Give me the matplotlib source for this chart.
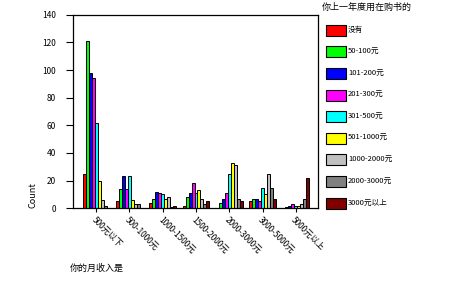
import matplotlib
matplotlib.use("Agg")
import matplotlib.pyplot as plt
from matplotlib.patches import Rectangle
import numpy as np

plt.rcParams['font.family'] = ['Noto Sans CJK SC', 'DejaVu Sans']

categories = ["500元以下", "500-1000元", "1000-1500元", "1500-2000元",
              "2000-3000元", "3000-5000元", "5000元以上"]
series_names = ["没有", "50-100元", "101-200元", "201-300元", "301-500元",
                "501-1000元", "1000-2000元", "2000-3000元", "3000元以上"]
series_colors = ["#FF0000", "#00FF00", "#0000FF", "#FF00FF", "#00FFFF",
                 "#FFFF00", "#C0C0C0", "#808080", "#800000"]

# values[series][category]
s_none   = [25, 5, 4, 2, 0, 5, 0]
s_50     = [121, 14, 7, 8, 4, 7, 1]
s_101    = [98, 23, 12, 11, 7, 7, 2]
s_201    = [94, 14, 11, 18, 11, 5, 3]
s_301    = [62, 23, 10, 11, 25, 15, 2]
s_501    = [20, 6, 7, 13, 33, 10, 2]
s_1000   = [6, 3, 8, 7, 31, 25, 3]
s_2000   = [2, 3, 1, 3, 7, 15, 7]
s_3000   = [0, 0, 2, 5, 5, 7, 22]
values = [s_none, s_50, s_101, s_201, s_301, s_501, s_1000, s_2000, s_3000]

W, H = 468, 281
fig = plt.figure(figsize=(W / 100, H / 100), dpi=100)
ax = fig.add_axes([72.7 / W, (H - 208.3) / H, (318.3 - 72.7) / W, (208.3 - 14.7) / H])

x = np.arange(len(categories))
n = len(values)
bw = 0.09
for i, (vals, col) in enumerate(zip(values, series_colors)):
    ax.bar(x + (i - (n - 1) / 2) * bw, vals, width=bw, color=col,
           edgecolor='black', linewidth=0.7)

ax.set_xlim(-0.7, 6.67)
ax.set_ylim(0, 140)
ax.set_yticks(np.arange(0, 141, 20))
ax.set_xticks(x)
ax.set_xticklabels(categories, rotation=-45, ha='left', va='top',
                   rotation_mode='anchor', fontsize=6)
ax.tick_params(axis='x', length=3, width=0.8, pad=2)
ax.tick_params(axis='y', length=5, width=0.8, pad=7, labelsize=6)
for sp in ax.spines.values():
    sp.set_linewidth(0.9)

fig.text(33 / W, 1 - 195 / H, "Count", rotation=90, ha='center', va='center', fontsize=6.5)
fig.text(70 / W, 1 - 268 / H, "你的月收入是", ha='left', va='center', fontsize=6.5)
fig.text(322 / W, 1 - 7 / H, "你上一年度用在购书的", ha='left', va='center', fontsize=6.5)

# legend
for i, (name, col) in enumerate(zip(series_names, series_colors)):
    yc = 30.3 + i * 21.6
    fig.add_artist(Rectangle((326 / W, 1 - (yc + 5.5) / H), 19.5 / W, 11 / H,
                             transform=fig.transFigure, facecolor=col,
                             edgecolor='black', linewidth=0.8))
    fig.text(348 / W, 1 - yc / H, name, ha='left', va='center', fontsize=5.5)

fig.savefig("out.png", dpi=100)
